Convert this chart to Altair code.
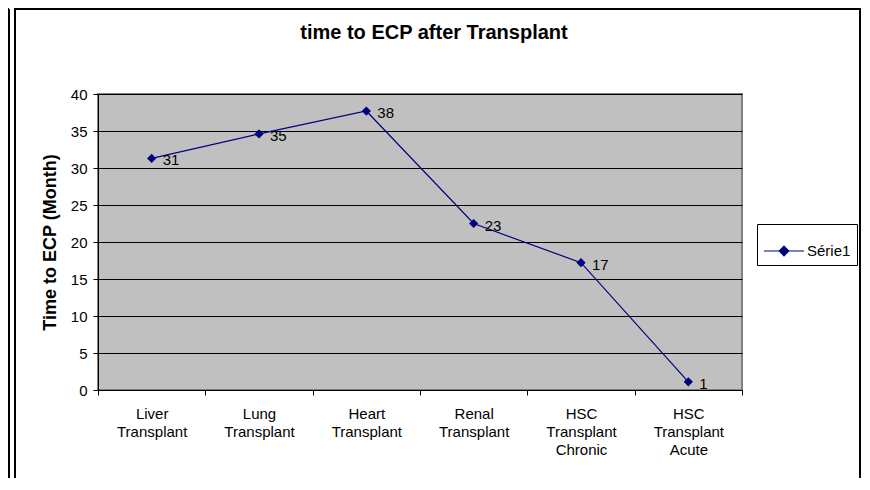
import altair as alt
import pandas as pd

categories = ["Liver Transplant", "Lung Transplant", "Heart Transplant",
              "Renal Transplant", "HSC Transplant Chronic", "HSC Transplant Acute"]
values = [31.3, 34.6, 37.7, 22.5, 17.2, 1.1]
labels = ["31", "35", "38", "23", "17", "1"]
series = ["Série1"] * 6
y_ticks = [0, 5, 10, 15, 20, 25, 30, 35, 40]
chart_title = "time to ECP after Transplant"

df = pd.DataFrame({"cat": categories, "val": values, "lab": labels, "series": series})

FONT = "Liberation Sans"
NAVY = "#000080"

x_scale = alt.Scale(type="band", paddingInner=0, paddingOuter=0)
y_scale = alt.Scale(domain=[0, 40], nice=False, zero=True)

x_enc = alt.X("cat:N", sort=categories, scale=x_scale,
              axis=alt.Axis(title=None, labelExpr="split(datum.label, ' ')",
                            labelAngle=0, labelFontSize=15, labelLineHeight=18,
                            labelPadding=11, tickBand="extent", tickSize=5,
                            tickColor="black", domainColor="black", labelColor="black",
                            labelFont=FONT, grid=False))
y_enc = alt.Y("val:Q", scale=y_scale,
              axis=alt.Axis(title="Time to ECP (Month)", values=y_ticks, tickCount=20,
                            labelOverlap=False,
                            titleFontSize=18, titleFontWeight="bold", titleFont=FONT,
                            titleColor="black", titlePadding=11,
                            labelFontSize=15, labelFont=FONT, labelColor="black",
                            labelPadding=6, tickSize=5, tickColor="black",
                            domainColor="black", grid=True, gridColor="black",
                            gridOpacity=1, gridWidth=1))

base = alt.Chart(df)

line = base.mark_line(
    strokeWidth=1.2,
    point=alt.OverlayMarkDef(shape="diamond", filled=True, size=85, opacity=1, color=NAVY),
).encode(
    x=x_enc, y=y_enc,
    color=alt.Color("series:N",
                    scale=alt.Scale(range=[NAVY]),
                    legend=alt.Legend(title=None, orient="none", legendX=659, legendY=130,
                                      symbolType="M-1,0L1,0M0,-0.24L0.24,0L0,0.24L-0.24,0Z",
                                      symbolSize=1600, symbolStrokeWidth=1.2,
                                      symbolFillColor=NAVY,
                                      labelFontSize=15, labelFont=FONT, labelColor="black",
                                      strokeColor="black", fillColor="white",
                                      padding=6, labelOffset=2))
)

txt = base.mark_text(align="left", baseline="middle", dx=11, dy=2,
                     fontSize=15, font=FONT, color="black").encode(
    x=x_enc, y=y_enc, text="lab:N"
)

one = alt.Data(values=[{"t": chart_title}])
title_mark = alt.Chart(one).mark_text(align="center", baseline="alphabetic",
                                      fontSize=20, fontWeight="bold", font=FONT,
                                      color="black").encode(
    x=alt.value(336), y=alt.value(-55), text="t:N"
)
frame = alt.Chart(one).mark_rect(fillOpacity=0, stroke="black", strokeWidth=2).encode(
    x=alt.value(-83), x2=alt.value(762), y=alt.value(-85), y2=alt.value(400)
)
bracket_v = alt.Chart(one).mark_rule(color="black", strokeWidth=2).encode(
    x=alt.value(-89), y=alt.value(-85), y2=alt.value(400)
)
bracket_h = alt.Chart(one).mark_rule(color="black", strokeWidth=2).encode(
    x=alt.value(-100), x2=alt.value(-89), y=alt.value(-85)
)

chart = alt.layer(frame, bracket_v, bracket_h, title_mark, line, txt).properties(
    width=644, height=296,
    autosize=alt.AutoSizeParams(type="none"),
    padding={"left": 90, "top": 86, "right": 120, "bottom": 88},
).configure(
    background="white",
    view=alt.ViewConfig(fill="#C0C0C0", stroke="#808080", strokeWidth=2),
)

chart.save("out.html", embed_options={"renderer": "svg", "actions": False})
